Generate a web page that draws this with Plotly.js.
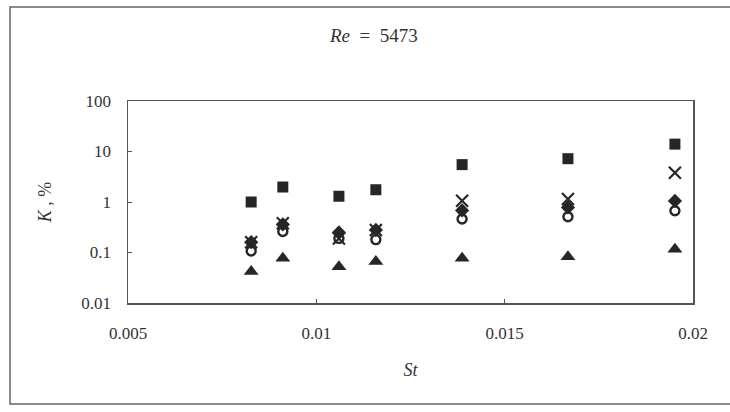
<!DOCTYPE html>
<html>
<head>
<meta charset="utf-8">
<script src="https://cdn.plot.ly/plotly-3.0.1.min.js"></script>
<style>
  html, body { margin: 0; padding: 0; background: #fff; }
  #chart { width: 730px; height: 412px; }
</style>
</head>
<body>
<div id="chart"></div>
<script>
// Strouhal numbers of the measurement runs
const st = [0.00827, 0.00911, 0.0106, 0.01158, 0.01387, 0.01668, 0.01952];

// K, % for each data set
const kSquare   = [1.0, 1.98, 1.3, 1.75, 5.5, 7.2, 14.0];
const kCross    = [0.16, 0.38, 0.19, 0.28, 1.06, 1.15, 3.8];
const kDiamond  = [0.16, 0.36, 0.25, 0.28, 0.68, 0.78, 1.05];
const kCircle   = [0.107, 0.26, 0.19, 0.18, 0.46, 0.51, 0.67];
const kTriangle = [0.042, 0.077, 0.052, 0.066, 0.077, 0.082, 0.116];

// Axis ticks
const xTicks = [0.005, 0.01, 0.015, 0.02];
const xTickText = ['0.005', '0.01', '0.015', '0.02'];
const yTicks = [0.01, 0.1, 1, 10, 100];
const yTickText = ['0.01', '0.1', '1', '10', '100'];

const ink = '#262626';
const textInk = '#333';
const serif = '"Liberation Serif", "Times New Roman", serif';

function series(y, marker) {
  return { x: st, y: y, type: 'scatter', mode: 'markers', marker: marker,
           showlegend: false, hoverinfo: 'x+y' };
}

const data = [
  series(kSquare,   { symbol: 'square', size: 11, color: ink }),
  series(kCross,    { symbol: 'x-thin', size: 12, color: ink, line: { width: 2.2, color: ink } }),
  series(kDiamond,  { symbol: 'diamond', size: 11, color: ink }),
  series(kCircle,   { symbol: 'circle-open', size: 9, color: ink, line: { width: 2.4, color: ink } }),
  series(kTriangle, { symbol: 'triangle-up', size: 13, color: ink })
];

const layout = {
  width: 730, height: 412,
  paper_bgcolor: '#fff', plot_bgcolor: '#fff',
  margin: { l: 128, r: 37, t: 101, b: 109 },
  font: { family: serif, size: 17, color: textInk },
  title: {
    text: '<i>Re</i>&nbsp;&nbsp;=&nbsp;&nbsp;5473',
    font: { family: serif, size: 19, color: textInk },
    x: 0.512, xref: 'container', xanchor: 'center',
    y: 0.915, yref: 'container', yanchor: 'middle'
  },
  xaxis: {
    range: [0.005, 0.02],
    tickvals: xTicks, ticktext: xTickText,
    ticks: 'inside', ticklen: 4, tickcolor: '#555',
    showline: true, mirror: true, linecolor: '#555', linewidth: 1.5,
    showgrid: false, zeroline: false,
    ticklabelstandoff: 14,
    tickfont: { family: serif, size: 17, color: textInk },
    title: { text: '<i>St</i>', font: { family: serif, size: 18, color: textInk }, standoff: 21 }
  },
  yaxis: {
    type: 'log',
    range: [-2, 2],
    tickvals: yTicks, ticktext: yTickText,
    ticks: 'inside', ticklen: 4, tickcolor: '#555',
    showline: true, mirror: true, linecolor: '#555', linewidth: 1.5,
    showgrid: false, zeroline: false,
    ticklabelstandoff: 12,
    tickfont: { family: serif, size: 17, color: textInk },
    title: { text: '<i>K</i> , %', font: { family: serif, size: 18, color: textInk }, standoff: 25 }
  },
  shapes: [{
    type: 'rect', xref: 'paper', yref: 'paper',
    x0: -0.2088, x1: 1.08, y0: -0.5, y1: 1.465,
    line: { color: '#666', width: 1.5 }, fillcolor: 'rgba(0,0,0,0)', layer: 'below'
  }]
};

Plotly.newPlot('chart', data, layout, { displayModeBar: false, staticPlot: true });
</script>
</body>
</html>
